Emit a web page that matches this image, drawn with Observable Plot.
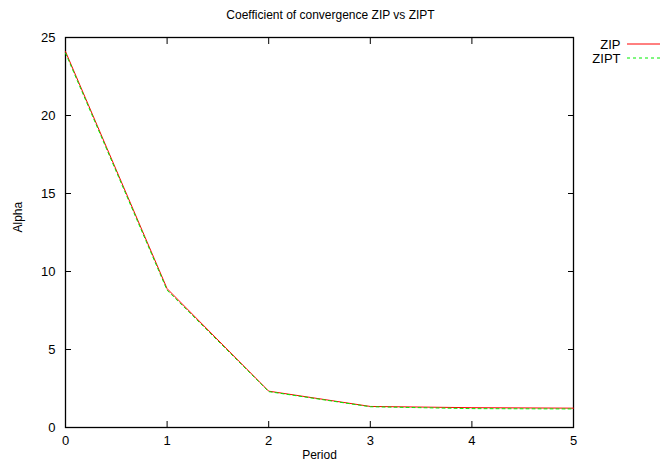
<!DOCTYPE html>
<html><head><meta charset="utf-8">
<script src="https://cdn.jsdelivr.net/npm/d3@7"></script>
<script src="https://cdn.jsdelivr.net/npm/@observablehq/plot@0.6"></script>
<style>body{margin:0;background:#fff;font-family:"Liberation Sans",Arial,sans-serif;}</style>
</head><body><div id="chart"></div>
<script>
const periods = [0, 1, 2, 3, 4, 5];
const zip = [24.1, 8.9, 2.33, 1.35, 1.27, 1.24];
const zipt = [24.0, 8.8, 2.3, 1.33, 1.21, 1.19];
const seriesNames = ["ZIP", "ZIPT"];
const xTicks = [0, 1, 2, 3, 4, 5];
const yTicks = [0, 5, 10, 15, 20, 25];
const title = "Coefficient of convergence ZIP vs ZIPT";
const xLabel = "Period";
const yLabel = "Alpha";

const rows = (vals, s) => periods.map((p, i) => ({period: p, alpha: vals[i], series: s}));
const zipRows = rows(zip, seriesNames[0]);
const ziptRows = rows(zipt, seriesNames[1]);

const chart = Plot.plot({
  width: 660, height: 461,
  marginLeft: 65, marginRight: 87, marginTop: 37, marginBottom: 34,
  style: {fontFamily: "Liberation Sans, Arial, sans-serif", fontSize: "13px", color: "#000", background: "#fff"},
  x: {domain: [0, 5]},
  y: {domain: [0, 25]},
  marks: [
    Plot.frame({stroke: "#000", strokeWidth: 1.3}),
    Plot.axisX({ticks: xTicks, tickFormat: "d", tickSize: 0, tickPadding: 8, label: null, fontSize: 13}),
    Plot.axisX({ticks: xTicks, text: null, tickSize: 6, dy: -6, label: null}),
    Plot.axisX({ticks: xTicks, anchor: "top", text: null, tickSize: 6, dy: 6, label: null}),
    Plot.axisY({ticks: yTicks, tickSize: 0, tickPadding: 10, label: null, fontSize: 13}),
    Plot.axisY({ticks: yTicks, text: null, tickSize: 6, dx: 6, label: null}),
    Plot.axisY({ticks: yTicks, anchor: "right", text: null, tickSize: 6, dx: -6, label: null}),
    Plot.line(zipRows, {x: "period", y: "alpha", stroke: "#ff0000", strokeWidth: 1}),
    Plot.line(ziptRows, {x: "period", y: "alpha", stroke: "#00ee00", strokeWidth: 1, strokeDasharray: "3,3"}),
    Plot.text([title], {frameAnchor: "top", dy: -22, dx: 11, fontSize: 12, lineAnchor: "middle"}),
    Plot.text([xLabel], {frameAnchor: "bottom", dy: 28, fontSize: 12, lineAnchor: "middle"}),
    Plot.text([yLabel], {frameAnchor: "left", dx: -47, rotate: -90, fontSize: 12}),
    Plot.text([seriesNames[0]], {frameAnchor: "top-right", dx: 47, dy: 7, textAnchor: "end", fontSize: 13, lineAnchor: "middle"}),
    Plot.text([seriesNames[1]], {frameAnchor: "top-right", dx: 47, dy: 21, textAnchor: "end", fontSize: 13, lineAnchor: "middle"})
  ]
});
document.getElementById("chart").appendChild(chart);
// legend swatches
const svg = d3.select(chart);
const legend = [{c: "#ff0000", d: null, y: 44}, {c: "#00ee00", d: "3,3", y: 58}];
svg.append("g").selectAll("line").data(legend).join("line")
  .attr("x1", 627).attr("x2", 660).attr("y1", d => d.y).attr("y2", d => d.y)
  .attr("stroke", d => d.c).attr("stroke-dasharray", d => d.d);
</script></body></html>
